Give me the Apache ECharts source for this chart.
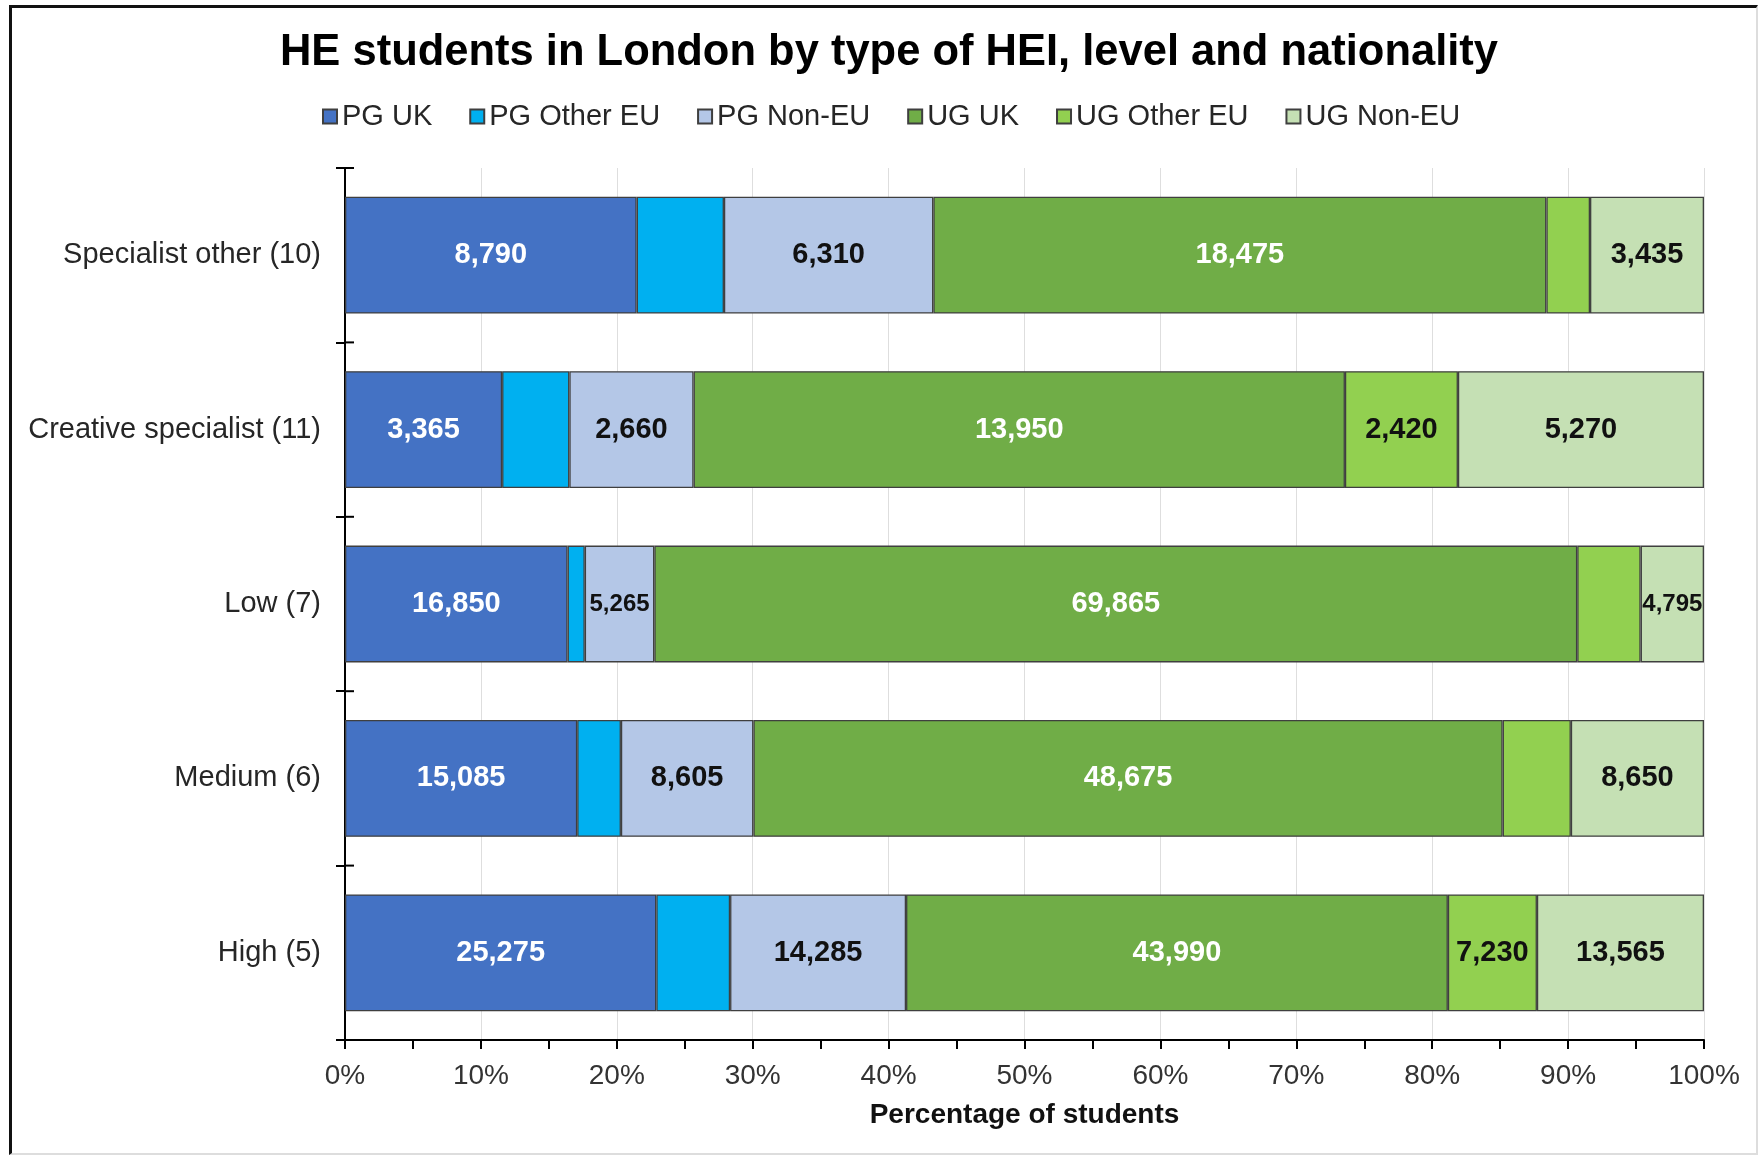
<!DOCTYPE html>
<html>
<head>
<meta charset="utf-8">
<script src="https://cdn.jsdelivr.net/npm/echarts@6/dist/echarts.min.js"></script>
<style>
  html, body { margin: 0; padding: 0; background: #fff; }
  #frame { position: absolute; left: 9px; top: 5px; width: 1744px; height: 1145px;
           border-left: 3px solid #111; border-top: 3px solid #111;
           border-right: 2px solid #ddd; border-bottom: 2px solid #ddd; }
  #chart { position: absolute; left: 0; top: 0; width: 1760px; height: 1157px; }
</style>
</head>
<body>
<div id="frame"></div>
<div id="chart"></div>
<script>
// ---- Data ----
const categories = ['Specialist other (10)', 'Creative specialist (11)', 'Low (7)', 'Medium (6)', 'High (5)'];
const seriesNames = ['PG UK', 'PG Other EU', 'PG Non-EU', 'UG UK', 'UG Other EU', 'UG Non-EU'];
const pgUK      = [8790, 3365, 16850, 15085, 25275];
const pgOtherEU = [2630, 1440, 1300, 2840, 5990];
const pgNonEU   = [6310, 2660, 5265, 8605, 14285];
const ugUK      = [18475, 13950, 69865, 48675, 43990];
const ugOtherEU = [1315, 2420, 4800, 4430, 7230];
const ugNonEU   = [3435, 5270, 4795, 8650, 13565];
const xTicks = [0, 10, 20, 30, 40, 50, 60, 70, 80, 90, 100];

// which segments carry a value label in the reference
const labelled = [
  [true, true, true, true, true],
  [false, false, false, false, false],
  [true, true, true, true, true],
  [true, true, true, true, true],
  [false, true, false, false, true],
  [true, true, true, true, true]
];
const smallLabel = { '2-2': true, '5-2': true };

const values = [pgUK, pgOtherEU, pgNonEU, ugUK, ugOtherEU, ugNonEU];
const colors = ['#4472C4', '#00B0F0', '#B4C7E7', '#70AD47', '#92D050', '#C5E0B4'];
const labelColors = ['#ffffff', '#111111', '#111111', '#ffffff', '#111111', '#111111'];
const totals = categories.map((c, i) => values.reduce((s, arr) => s + arr[i], 0));

const FONT = '"Liberation Sans", Arial, sans-serif';
const CHART_W = 1760;
const GRID = { left: 345, right: 56, top: 168, bottom: 117, containLabel: false };

const series = values.map((arr, si) => ({
  name: seriesNames[si],
  type: 'bar',
  stack: 'total',
  xAxisIndex: 0,
  yAxisIndex: 0,
  barCategoryGap: '33%',
  itemStyle: { color: colors[si], borderColor: '#3f3f3f', borderWidth: 1.3 },
  label: {
    show: true,
    position: 'inside',
    fontFamily: FONT,
    fontWeight: 'bold',
    fontSize: 29,
    color: labelColors[si],
    formatter: p => p.data.raw.toLocaleString('en-US')
  },
  data: arr.map((v, ci) => ({
    value: v / totals[ci] * 100,
    raw: v,
    label: {
      show: labelled[si][ci],
      fontSize: smallLabel[si + '-' + ci] ? 24 : 29
    }
  }))
}));

// inner half of the cross-shaped category ticks on the y axis (band boundaries via the axis scale)
series.push({
  name: '_ticks',
  type: 'custom',
  xAxisIndex: 0,
  yAxisIndex: 0,
  silent: true,
  clip: false,
  z: 10,
  encode: { x: 0, y: 1 },
  data: categories.map((c, i) => [0, i]),
  renderItem: function (params, api) {
    const p = api.coord([0, params.dataIndex]);
    const h = api.size([0, 1])[1];
    const ys = [p[1] - h / 2];
    if (params.dataIndex === categories.length - 1) ys.push(p[1] + h / 2);
    return {
      type: 'group',
      children: ys.map(y => ({
        type: 'line',
        shape: { x1: p[0], y1: y, x2: p[0] + 9, y2: y },
        style: { stroke: '#000', lineWidth: 2 }
      }))
    };
  }
});

const chart = echarts.init(document.getElementById('chart'), null, { renderer: 'canvas' });
chart.setOption({
  animation: false,
  backgroundColor: 'transparent',
  title: {
    text: 'HE students in London by type of HEI, level and nationality',
    left: CHART_W / 2 + 9,
    textAlign: 'center',
    top: 31,
    padding: 0,
    textStyle: { fontFamily: FONT, fontSize: 43.5, fontWeight: 'bold', color: '#000' }
  },
  legend: {
    top: 102,
    left: 322,
    padding: 0,
    icon: 'rect',
    itemWidth: 14,
    itemHeight: 14,
    itemGap: 37,
    data: seriesNames,
    textStyle: { fontFamily: FONT, fontSize: 29, color: '#262626' }
  },
  grid: GRID,
  xAxis: {
    type: 'value',
    min: 0,
    max: 100,
    interval: 10,
    axisLine: { show: true, lineStyle: { color: '#000', width: 2 } },
    axisTick: { show: true, length: 9, lineStyle: { color: '#000', width: 2 } },
    minorTick: { show: true, splitNumber: 2, length: 9, lineStyle: { color: '#000', width: 2 } },
    splitLine: { show: true, lineStyle: { color: '#dedede', width: 1 } },
    axisLabel: {
      fontFamily: FONT, fontSize: 28, color: '#333', margin: 22,
      formatter: v => (xTicks.indexOf(v) >= 0 ? v + '%' : '')
    },
    name: 'Percentage of students',
    nameLocation: 'middle',
    nameGap: 61,
    nameTextStyle: { fontFamily: FONT, fontSize: 28, fontWeight: 'bold', color: '#111' }
  },
  yAxis: {
    type: 'category',
    inverse: true,
    data: categories,
    position: 'left',
    axisLine: { show: true, lineStyle: { color: '#000', width: 2 } },
    axisTick: { show: true, length: 9, lineStyle: { color: '#000', width: 2 } },
    axisLabel: { fontFamily: FONT, fontSize: 29, color: '#262626', margin: 24 },
    splitLine: { show: false }
  },
  series: series
});
</script>
</body>
</html>
